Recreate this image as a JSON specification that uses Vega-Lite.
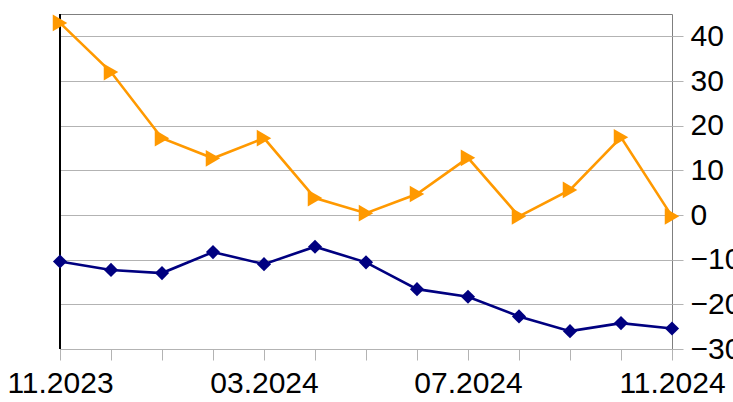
{
  "$schema": "https://vega.github.io/schema/vega-lite/v6.json",
  "width": 612,
  "height": 335,
  "autosize": {"type": "none"},
  "padding": {"left": 60, "top": 14, "right": 61, "bottom": 53},
  "background": "white",
  "config": {"view": {"stroke": "#7f7f7f", "strokeWidth": 1}, "font": "Liberation Sans"},
  "data": {"values": [
    {"month": "11.2023", "series": "A", "value": 43.0},
    {"month": "12.2023", "series": "A", "value": 32.0},
    {"month": "01.2024", "series": "A", "value": 17.2},
    {"month": "02.2024", "series": "A", "value": 12.7},
    {"month": "03.2024", "series": "A", "value": 17.2},
    {"month": "04.2024", "series": "A", "value": 3.8},
    {"month": "05.2024", "series": "A", "value": 0.4},
    {"month": "06.2024", "series": "A", "value": 4.7},
    {"month": "07.2024", "series": "A", "value": 12.8},
    {"month": "08.2024", "series": "A", "value": -0.3},
    {"month": "09.2024", "series": "A", "value": 5.6},
    {"month": "10.2024", "series": "A", "value": 17.4},
    {"month": "11.2024", "series": "A", "value": -0.3},
    {"month": "11.2023", "series": "B", "value": -10.4},
    {"month": "12.2023", "series": "B", "value": -12.3},
    {"month": "01.2024", "series": "B", "value": -13.0},
    {"month": "02.2024", "series": "B", "value": -8.3},
    {"month": "03.2024", "series": "B", "value": -11.0},
    {"month": "04.2024", "series": "B", "value": -7.1},
    {"month": "05.2024", "series": "B", "value": -10.6},
    {"month": "06.2024", "series": "B", "value": -16.6},
    {"month": "07.2024", "series": "B", "value": -18.3},
    {"month": "08.2024", "series": "B", "value": -22.7},
    {"month": "09.2024", "series": "B", "value": -26.0},
    {"month": "10.2024", "series": "B", "value": -24.2},
    {"month": "11.2024", "series": "B", "value": -25.4}
  ]},
  "encoding": {
    "x": {
      "field": "month", "type": "ordinal", "sort": null,
      "scale": {"type": "point", "padding": 0},
      "axis": {
        "orient": "bottom", "title": null, "domain": false, "grid": false,
        "ticks": true, "tickColor": "#b3b3b3", "tickSize": 11,
        "labelAngle": 0, "labelFontSize": 30, "labelColor": "black",
        "labelPadding": 8, "labelOverlap": false,
        "labelExpr": "indexof(['11.2023','03.2024','07.2024','11.2024'], datum.value) >= 0 ? datum.label : ''"
      }
    }
  },
  "layer": [
    {
      "mark": {"type": "rule", "color": "black", "strokeWidth": 1},
      "encoding": {"x": {"datum": "11.2023", "type": "ordinal"}}
    },
    {
      "mark": {"type": "line", "strokeWidth": 2.6},
      "encoding": {
        "y": {
          "field": "value", "type": "quantitative",
          "scale": {"domain": [-30, 45], "nice": false, "zero": false},
          "axis": {
            "orient": "right", "title": null, "domain": false,
            "values": [-30, -20, -10, 0, 10, 20, 30, 40],
            "grid": true, "gridColor": "#b3b3b3", "gridOpacity": 1,
            "tickColor": "#b3b3b3", "tickSize": 11, "labelPadding": 7,
            "labelFontSize": 30, "labelColor": "black"
          }
        },
        "color": {"field": "series", "type": "nominal", "scale": {"domain": ["A", "B"], "range": ["#ff9900", "#000080"]}, "legend": null}
      }
    },
    {
      "mark": {"type": "point", "filled": true, "opacity": 1},
      "encoding": {
        "y": {"field": "value", "type": "quantitative"},
        "color": {"field": "series", "type": "nominal", "legend": null},
        "shape": {"field": "series", "type": "nominal", "scale": {"domain": ["A", "B"], "range": ["triangle-right", "diamond"]}, "legend": null},
        "size": {"field": "series", "type": "nominal", "scale": {"domain": ["A", "B"], "range": [280, 200]}, "legend": null}
      }
    }
  ]
}
